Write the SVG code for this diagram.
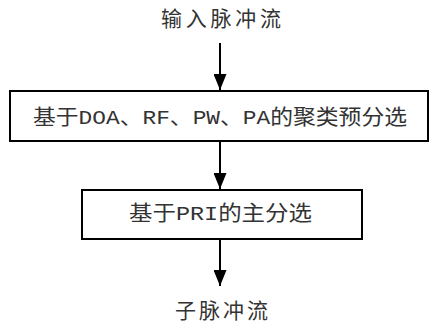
<svg xmlns="http://www.w3.org/2000/svg" width="430" height="324" viewBox="0 0 430 324">
<style>
.box{fill:#fff;stroke:#000;stroke-width:2}
.t{font-family:"Liberation Mono","Noto Sans CJK SC",monospace;font-size:21px;fill:#333;text-anchor:middle;dominant-baseline:central}
.c{stroke:#000;stroke-width:2;fill:none}
</style>
<defs>
<marker id="ah" viewBox="0 0 16 13" refX="16" refY="6.5" markerWidth="16" markerHeight="13" markerUnits="userSpaceOnUse" orient="auto">
<path d="M0,0 L16,6.5 L0,13 Z" fill="#000"/>
</marker>
</defs>
<rect width="430" height="324" fill="#fff"/>
<g id="connectors">
<line class="c" x1="220" y1="43" x2="220" y2="90" marker-end="url(#ah)"/>
<line class="c" x1="220" y1="141" x2="220" y2="189" marker-end="url(#ah)"/>
<line class="c" x1="220" y1="239" x2="220" y2="286" marker-end="url(#ah)"/>
</g>
<g id="input">
<text class="t" x="221" y="20" textLength="120" lengthAdjust="spacing">输入脉冲流</text>
</g>
<g id="pre-sort">
<rect class="box" x="10" y="91" width="418" height="50"/>
<text class="t" x="220" y="118" textLength="374" lengthAdjust="spacingAndGlyphs">基于DOA、RF、PW、PA的聚类预分选</text>
</g>
<g id="main-sort">
<rect class="box" x="82" y="190" width="280" height="49"/>
<text class="t" x="220.5" y="214.5" textLength="183" lengthAdjust="spacingAndGlyphs">基于PRI的主分选</text>
</g>
<g id="output">
<text class="t" x="221.5" y="312.5" textLength="93" lengthAdjust="spacing">子脉冲流</text>
</g>
</svg>
